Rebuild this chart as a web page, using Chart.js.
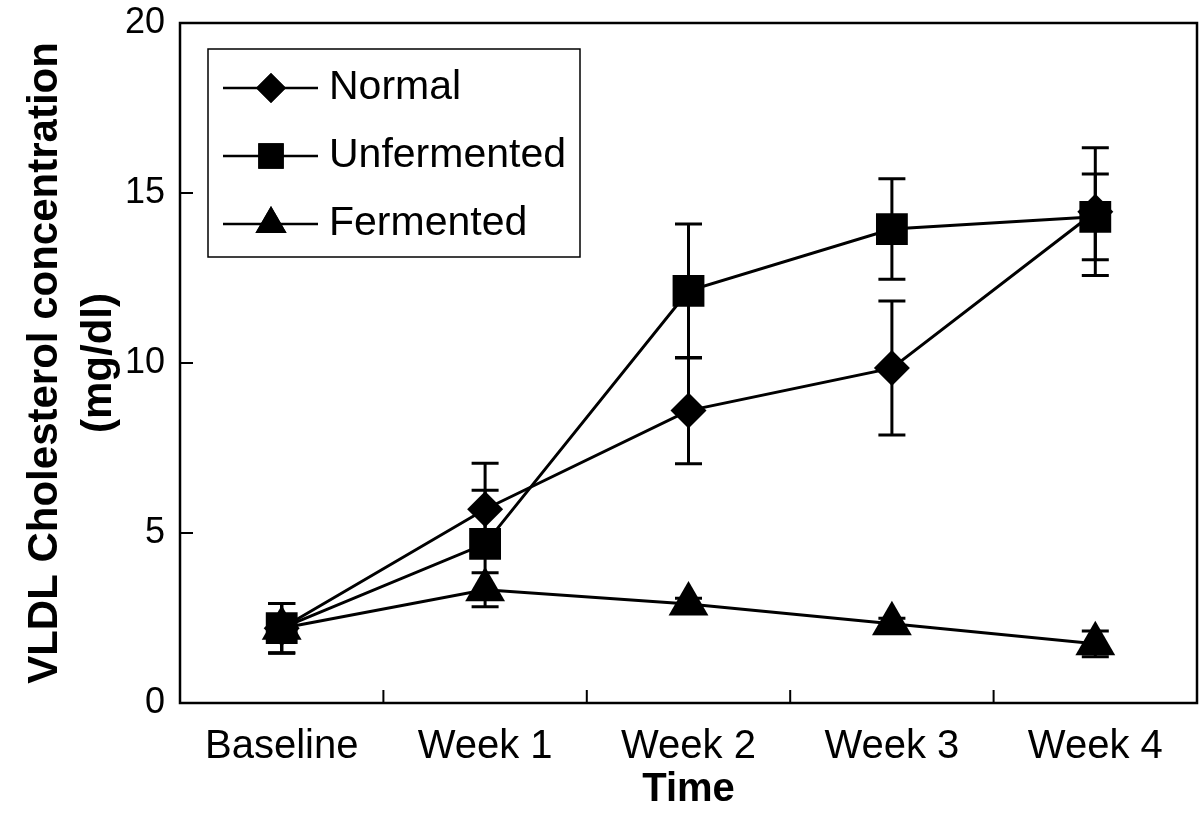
<!DOCTYPE html>
<html>
<head>
<meta charset="utf-8">
<script src="https://cdn.jsdelivr.net/npm/chart.js@4/dist/chart.umd.min.js"></script>
<style>
html,body{margin:0;padding:0;background:#fff;}
#wrap{width:1200px;height:815px;position:relative;}
</style>
</head>
<body>
<div id="wrap"><canvas id="c" width="1200" height="815"></canvas></div>
<script>
const categories = ['Baseline', 'Week 1', 'Week 2', 'Week 3', 'Week 4'];
const normalValues = [2.2, 5.7, 8.6, 9.85, 14.45];
const normalErrors = [0.73, 1.35, 1.56, 1.97, 1.88];
const unfermentedValues = [2.2, 4.68, 12.12, 13.94, 14.3];
const unfermentedErrors = [0.73, 1.58, 1.97, 1.48, 1.26];
const fermentedValues = [2.2, 3.33, 2.91, 2.33, 1.74];
const fermentedErrors = [0.73, 0.5, 0.17, 0.16, 0.38];
const yTicks = [0, 5, 10, 15, 20];

const FONT = "'Liberation Sans', Arial, Helvetica, sans-serif";
const errorSets = [normalErrors, unfermentedErrors, fermentedErrors];

const frameAndTicks = {
  id: 'frameAndTicks',
  beforeDatasetsDraw(chart) {
    const ctx = chart.ctx;
    const a = chart.chartArea;
    const xs = chart.scales.x, ys = chart.scales.y;
    ctx.save();
    ctx.strokeStyle = '#000';
    ctx.lineWidth = 2.5;
    ctx.strokeRect(a.left, a.top, a.right - a.left, a.bottom - a.top);
    ctx.lineWidth = 2;
    ctx.beginPath();
    ys.ticks.forEach(t => {
      const y = ys.getPixelForValue(t.value);
      ctx.moveTo(a.left, y); ctx.lineTo(a.left + 13, y);
    });
    for (let i = 0; i < categories.length - 1; i++) {
      const x = (xs.getPixelForValue(i) + xs.getPixelForValue(i + 1)) / 2;
      ctx.moveTo(x, a.bottom); ctx.lineTo(x, a.bottom - 13);
    }
    ctx.stroke();
    // error bars
    ctx.lineWidth = 3;
    chart.data.datasets.forEach((ds, di) => {
      const errs = errorSets[di];
      ds.data.forEach((v, i) => {
        const x = xs.getPixelForValue(i);
        const yHi = ys.getPixelForValue(v + errs[i]);
        const yLo = ys.getPixelForValue(v - errs[i]);
        ctx.beginPath();
        ctx.moveTo(x, yHi); ctx.lineTo(x, yLo);
        ctx.moveTo(x - 13.5, yHi); ctx.lineTo(x + 13.5, yHi);
        ctx.moveTo(x - 13.5, yLo); ctx.lineTo(x + 13.5, yLo);
        ctx.stroke();
      });
    });
    ctx.restore();
  },
  afterDraw(chart) {
    const ctx = chart.ctx;
    ctx.save();
    // legend box
    const bx = 208, by = 49, bw = 372, bh = 208;
    ctx.strokeStyle = '#000';
    ctx.lineWidth = 1.5;
    ctx.fillStyle = '#fff';
    ctx.fillRect(bx, by, bw, bh);
    ctx.strokeRect(bx, by, bw, bh);
    const rows = [88, 156, 224];
    const radii = [15, 18, 18];
    chart.data.datasets.forEach((ds, i) => {
      const y = rows[i];
      ctx.strokeStyle = '#000';
      ctx.lineWidth = 2.5;
      ctx.beginPath();
      ctx.moveTo(223, y); ctx.lineTo(318, y);
      ctx.stroke();
      ctx.fillStyle = '#000';
      Chart.helpers.drawPoint(ctx, {pointStyle: ds.pointStyle, radius: radii[i], rotation: 0, borderWidth: 0}, 271, y);
      ctx.fill();
      ctx.fillStyle = '#000';
      ctx.font = '41px ' + FONT;
      ctx.textBaseline = 'middle';
      ctx.textAlign = 'left';
      ctx.fillText(ds.label, 329, y);
    });
    ctx.restore();
  }
};

new Chart(document.getElementById('c'), {
  type: 'line',
  data: {
    labels: categories,
    datasets: [
      {label: 'Normal', data: normalValues, pointStyle: 'rectRot', pointRadius: 18, order: 1},
      {label: 'Unfermented', data: unfermentedValues, pointStyle: 'rect', pointRadius: 22.5, order: 0},
      {label: 'Fermented', data: fermentedValues, pointStyle: 'triangle', pointRadius: 23, order: 2}
    ].map(d => Object.assign({
      borderColor: '#000', backgroundColor: '#000', borderWidth: 3,
      pointBackgroundColor: '#000', pointBorderColor: '#000', pointBorderWidth: 0,
      pointHoverRadius: 0, tension: 0, fill: false
    }, d))
  },
  options: {
    responsive: false,
    animation: false,
    events: [],
    layout: {autoPadding: false, padding: {left: 0, right: 3, top: 23, bottom: 0}},
    plugins: {legend: {display: false}, tooltip: {enabled: false}},
    scales: {
      x: {
        type: 'category',
        offset: true,
        grid: {display: false, drawTicks: false},
        border: {display: false},
        ticks: {color: '#000', font: {family: FONT, size: 40}, padding: 20, maxRotation: 0, autoSkip: false},
        title: {display: true, text: 'Time', color: '#000', font: {family: FONT, size: 40, weight: 'bold'}, padding: {top: 0, bottom: 1}},
        afterFit(s) { s.height = 112; s.paddingLeft = 0; s.paddingRight = 0; }
      },
      y: {
        min: 0, max: 20,
        afterBuildTicks(s) { s.ticks = yTicks.map(v => ({value: v})); },
        grid: {display: false, drawTicks: false},
        border: {display: false},
        ticks: {color: '#000', font: {family: FONT, size: 36}, padding: 15},
        title: {display: true, text: ['VLDL Cholesterol concentration', '(mg/dl)'], color: '#000',
          font: {family: FONT, size: 42, weight: 'bold', lineHeight: 1.3}, padding: {top: 18, bottom: 0}},
        afterFit(s) { s.width = 180; s.paddingTop = 0; s.paddingBottom = 0; }
      }
    }
  },
  plugins: [frameAndTicks]
});
</script>
</body>
</html>
